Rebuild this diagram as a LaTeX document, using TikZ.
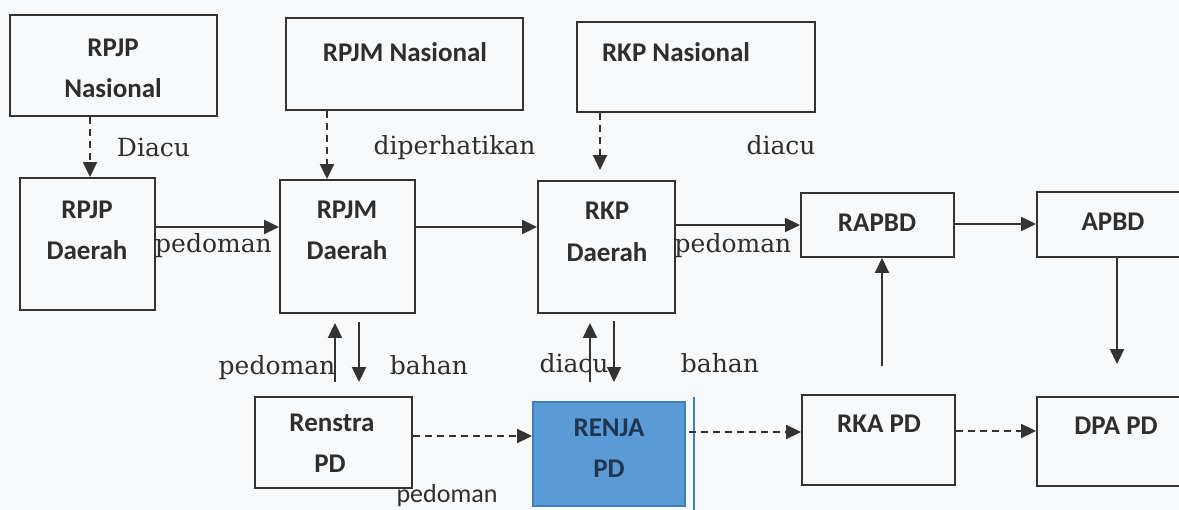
\documentclass[tikz,border=0pt]{standalone}
\usepackage{fontspec}
\setmainfont{Carlito}
\newfontfamily\labelserif{DejaVu Serif}
\usetikzlibrary{arrows.meta}
\definecolor{ln}{HTML}{353232}
\definecolor{tx}{HTML}{2E2E2E}
\definecolor{bg}{HTML}{F7F9FA}
\definecolor{renjafill}{HTML}{5A9AD6}
\definecolor{renjaline}{HTML}{3F7FC0}
\definecolor{renjatext}{HTML}{1F3550}
\begin{document}
\begin{tikzpicture}[x=1pt,y=-1pt,
  box/.style={draw=ln, line width=1.9pt, inner sep=0pt},
  lbl/.style={font=\bfseries\fontsize{27}{29}\selectfont, text=tx, anchor=base, inner sep=0pt},
  slbl/.style={font=\labelserif\fontsize{25}{27}\selectfont, text=tx, anchor=base, inner sep=0pt},
  arr/.style={draw=ln, line width=2pt, -{Triangle[length=15pt,width=14pt]}},
  darr/.style={arr, dash pattern=on 7pt off 5pt},
]
\useasboundingbox (0,0) rectangle (1179,510);
\fill[bg] (0,0) rectangle (1179,510);
\clip (0,0) rectangle (1179,510);

% boxes
\node[box, minimum width=207pt, minimum height=101pt] (rpjpn) at (113.5,65.5) {};
\node[box, minimum width=237pt, minimum height=92pt] (rpjmn) at (404.5,64) {};
\node[box, minimum width=238pt, minimum height=90pt] (rkpn) at (696,67) {};
\node[box, minimum width=135pt, minimum height=132pt] (rpjpd) at (87.5,244) {};
\node[box, minimum width=135pt, minimum height=133pt] (rpjmd) at (347.5,246.5) {};
\node[box, minimum width=137pt, minimum height=132pt] (rkpd) at (606.5,247) {};
\node[box, minimum width=153pt, minimum height=64pt] (rapbd) at (877.5,225) {};
\node[box, minimum width=153pt, minimum height=65pt] (apbd) at (1113.5,224.5) {};
\node[box, minimum width=157pt, minimum height=91pt] (renstra) at (333.5,442.5) {};
\node[box, draw=renjaline, fill=renjafill, minimum width=152pt, minimum height=104pt] (renja) at (609,454) {};
\node[box, minimum width=153pt, minimum height=90pt] (rka) at (878.5,440) {};
\node[box, minimum width=153pt, minimum height=89pt] (dpa) at (1113.5,441.5) {};

% blue side line of RENJA
\draw[renjaline, line width=1.5pt] ([xshift=8pt,yshift=4pt]renja.north east) -- ([xshift=8pt,yshift=-6pt]renja.south east);

% box texts
\node[lbl] (t1) at (113,57) {RPJP};
\node[lbl] (t2) at (113,98) {Nasional};
\node[lbl] (t3) at (405,62) {RPJM Nasional};
\node[lbl] (t4) at (676,62) {RKP Nasional};
\node[lbl] (t5) at (87,219) {RPJP};
\node[lbl] (t6) at (87,260) {Daerah};
\node[lbl] (t7) at (347,219) {RPJM};
\node[lbl] (t8) at (347,260) {Daerah};
\node[lbl] (t9) at (607,220) {RKP};
\node[lbl] (t10) at (607,262) {Daerah};
\node[lbl] (t11) at (877,232) {RAPBD};
\node[lbl] (t12) at (1113,231) {APBD};
\node[lbl] (t13) at (879,433) {RKA PD};
\node[lbl] (t14) at (1116,435) {DPA PD};
\node[lbl] (t15) at (332,432) {Renstra};
\node[lbl] (t16) at (330,473) {PD};
\node[lbl, text=renjatext] (t17) at (609,437) {RENJA};
\node[lbl, text=renjatext] (t18) at (609,478) {PD};

% connectors
\draw[darr] ([xshift=-23.5pt]rpjpn.south) -- ([xshift=2.5pt]rpjpd.north);
\draw[darr] ([xshift=-77.5pt]rpjmn.south) -- ([xshift=-20.5pt]rpjmd.north);
\draw[darr] ([xshift=-96pt]rkpn.south) -- ([xshift=-6.5pt,yshift=10pt]rkpd.north);
\draw[arr] ([yshift=17pt]rpjpd.east) -- ([yshift=19.5pt]rpjmd.west);
\draw[arr] ([yshift=19.5pt]rpjmd.east) -- ([yshift=20pt]rkpd.west);
\draw[arr] ([yshift=22pt]rkpd.east) -- (rapbd.west);
\draw[arr] ([yshift=1pt]rapbd.east) -- ([yshift=0.5pt]apbd.west);
\draw[arr] ([xshift=3.5pt]apbd.south) -- ([xshift=3.5pt,yshift=32pt]dpa.north);
\draw[arr] ([xshift=3.5pt,yshift=28pt]rka.north) -- ([xshift=4.5pt]rapbd.south);
\draw[arr] ([xshift=1.5pt,yshift=14pt]renstra.north) -- ([xshift=-12.5pt,yshift=-9pt]rpjmd.south);
\draw[arr] ([xshift=11.5pt,yshift=-8pt]rpjmd.south) -- ([xshift=25.5pt,yshift=14pt]renstra.north);
\draw[arr] ([xshift=-19pt,yshift=19pt]renja.north) -- ([xshift=-16.5pt,yshift=-9pt]rkpd.south);
\draw[arr] ([xshift=7.5pt,yshift=-7pt]rkpd.south) -- ([xshift=5pt,yshift=19pt]renja.north);
\draw[darr] ([yshift=6.5pt]renstra.east) -- ([yshift=18pt]renja.west);
\draw[darr] ([xshift=3pt,yshift=22pt]renja.east) -- ([yshift=8pt]rka.west);
\draw[darr] ([yshift=9pt]rka.east) -- ([yshift=10.5pt]dpa.west);

% connector labels
\node[slbl] (l1) at (153.5,157) {Diacu};
\node[slbl] (l2) at (454.5,155) {diperhatikan};
\node[slbl] (l3) at (781,155) {diacu};
\node[slbl] (l4) at (213.5,253) {pedoman};
\node[slbl] (l5) at (733,253) {pedoman};
\node[slbl] (l6) at (277,375) {pedoman};
\node[slbl] (l7) at (429,375) {bahan};
\node[slbl] (l8) at (574,373) {diacu};
\node[slbl] (l9) at (720,373) {bahan};
\node[lbl, font=\mdseries\fontsize{26}{28}\selectfont] (l10) at (447,503) {pedoman};
\end{tikzpicture}
\end{document}
